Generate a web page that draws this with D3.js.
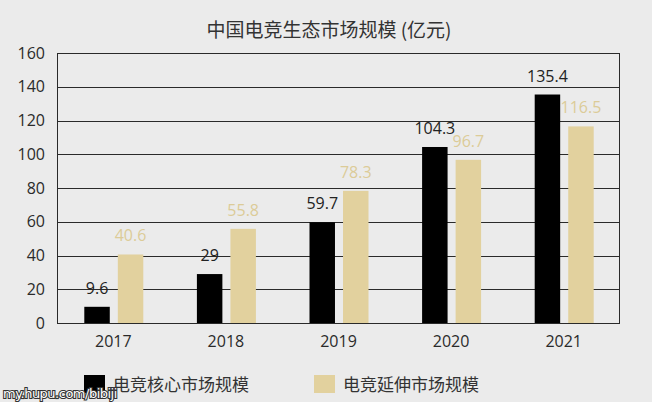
<!DOCTYPE html>
<html><head><meta charset="utf-8">
<script src="https://cdn.jsdelivr.net/npm/d3@7"></script>
<style>
html,body{margin:0;padding:0;background:#ebebeb;}
svg{display:block;font-family:"Noto Sans CJK SC","Noto Sans",sans-serif;}
</style></head>
<body>
<svg id="c" width="652" height="402"></svg>
<script>
const title = "中国电竞生态市场规模 (亿元)";
const years = ["2017","2018","2019","2020","2021"];
const coreValues = [9.6, 29, 59.7, 104.3, 135.4];
const extValues = [40.6, 55.8, 78.3, 96.7, 116.5];
const seriesNames = ["电竞核心市场规模","电竞延伸市场规模"];
const yTicks = [0,20,40,60,80,100,120,140,160];
const watermark = "my.hupu.com/bibiji";

const colors = ["#000000", "#e2d19e"];
const labelColors = ["#222222", "#dccb98"];

const svg = d3.select("#c");
const W = 652, H = 402;
const m = {left:57, right:620, top:53, bottom:323};

svg.append("rect").attr("width",W).attr("height",H).attr("fill","#ebebeb");

const x = d3.scaleBand().domain(years).range([m.left, m.right]);
const y = d3.scaleLinear().domain([0,160]).range([m.bottom, m.top]);
const sub = d3.scaleBand().domain([0,1]).range([-29, 30]).paddingInner(0.24).paddingOuter(0);

// gridlines
svg.append("g").selectAll("line").data(yTicks).join("line")
  .attr("x1", m.left).attr("x2", m.right)
  .attr("y1", d=>Math.round(y(d))+0.5).attr("y2", d=>Math.round(y(d))+0.5)
  .attr("stroke","#2a2a2a").attr("stroke-width",1);
// frame
svg.append("line").attr("x1",m.left+0.5).attr("x2",m.left+0.5).attr("y1",m.top).attr("y2",m.bottom).attr("stroke","#2a2a2a");
svg.append("line").attr("x1",m.right-0.5).attr("x2",m.right-0.5).attr("y1",m.top).attr("y2",m.bottom).attr("stroke","#2a2a2a");

// y tick labels
const yAxis = d3.axisLeft(y).tickValues(yTicks).tickSize(0).tickPadding(0);
const yg = svg.append("g").attr("transform",`translate(${m.left-12},0)`).call(yAxis);
yg.select(".domain").remove();
yg.selectAll("text").attr("font-size",16).attr("fill","#2a2a2a").attr("font-family","'Open Sans','Noto Sans',sans-serif");

// x tick labels
const xAxis = d3.axisBottom(x).tickSize(0).tickPadding(0);
const xg = svg.append("g").attr("transform",`translate(0,${m.bottom+13})`).call(xAxis);
xg.select(".domain").remove();
xg.selectAll("text").attr("font-size",16).attr("fill","#2a2a2a").attr("font-family","'Open Sans','Noto Sans',sans-serif");

const series = [coreValues, extValues];
series.forEach((vals, si) => {
  const g = svg.append("g");
  g.selectAll("rect").data(vals).join("rect")
    .attr("x", (d,i)=> x(years[i]) + x.bandwidth()/2 + sub(si))
    .attr("width", sub.bandwidth())
    .attr("y", d=>y(d))
    .attr("height", d=>y(0)-y(d))
    .attr("fill", colors[si]);
  g.selectAll("text").data(vals).join("text")
    .attr("x", (d,i)=> x(years[i]) + x.bandwidth()/2 + sub(si) + sub.bandwidth()/2)
    .attr("y", d=>y(d)-13)
    .attr("text-anchor","middle")
    .attr("font-size",16)
    .attr("font-family","'Open Sans','Noto Sans',sans-serif")
    .attr("fill", labelColors[si])
    .text(d=>d);
});

// title
svg.append("text").attr("x",329).attr("y",37).attr("text-anchor","middle")
  .attr("font-size",19).attr("fill","#333").text(title);

// legend
const legX = [84, 314];
seriesNames.forEach((n,i)=>{
  svg.append("rect").attr("x",legX[i]).attr("y",375).attr("width",21).attr("height",18).attr("fill",colors[i]);
  svg.append("text").attr("x",legX[i]+29).attr("y",391).attr("font-size",17).attr("fill","#333").text(n);
});

// watermark
svg.append("text").attr("x",3).attr("y",398).attr("font-size",13)
  .attr("font-family","'DejaVu Sans',sans-serif")
  .attr("fill","#fff").attr("stroke","#333").attr("stroke-width",2.2).attr("paint-order","stroke")
  .attr("letter-spacing","-0.5").text(watermark);
</script>
</body></html>
